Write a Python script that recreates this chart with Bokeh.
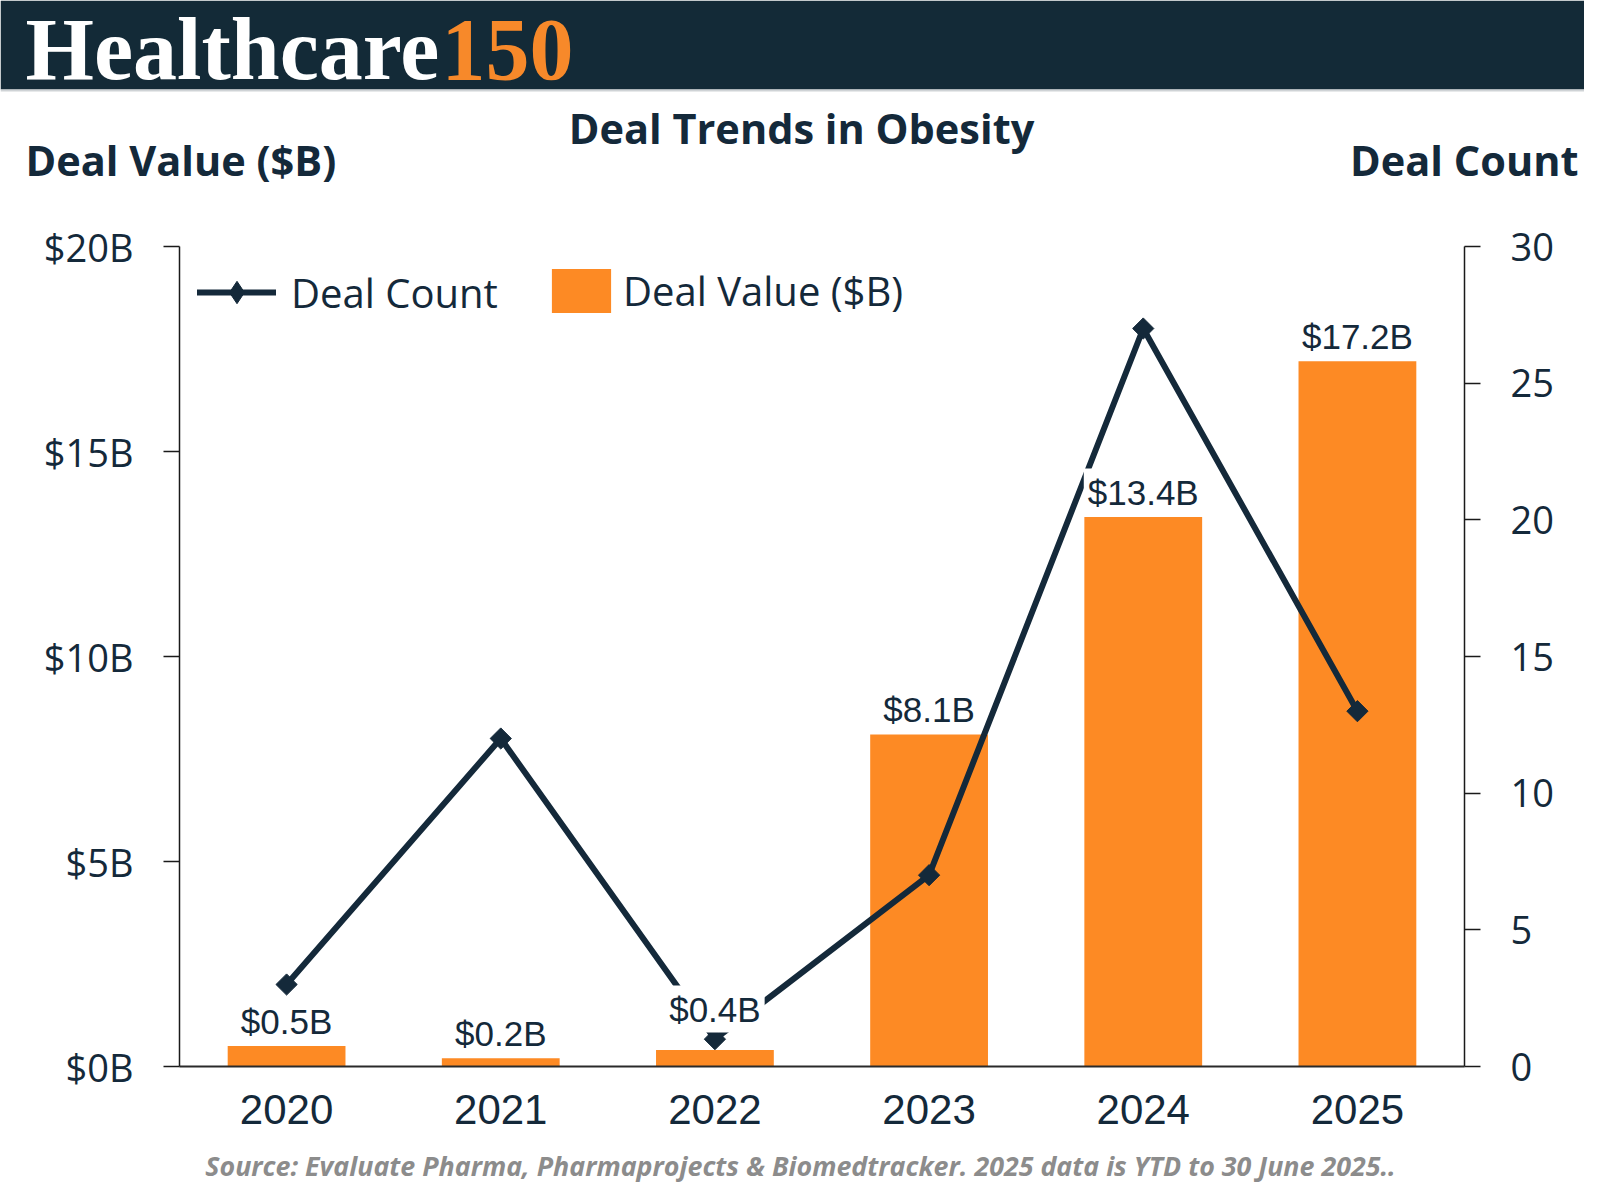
import math
from bokeh.plotting import figure
from bokeh.models import (Range1d, FactorRange, LinearAxis, FixedTicker, PrintfTickFormatter,
                          ColumnDataSource, Legend, LegendItem, Label, BoxAnnotation)
from bokeh.layouts import column
from bokeh.core.properties import value
from bokeh.embed import file_html
from bokeh.resources import INLINE

# ---------------- data ----------------
years = ["2020", "2021", "2022", "2023", "2024", "2025"]
deal_value = [0.5, 0.2, 0.4, 8.1, 13.4, 17.2]
deal_count = [3, 12, 1, 7, 27, 13]
value_ticks = [0, 5, 10, 15, 20]
count_ticks = [0, 5, 10, 15, 20, 25, 30]
value_labels = [f"${v}B" for v in deal_value]

# ---------------- styles ----------------
NAVY = "#14293a"
ORANGE = "#fd8a24"
HEADER = "#132a37"
label_lift = [-25, -25, -41, -25, -25, -25]   # label offsets above bar tops (px)

W, H = 1584, 1184
TOP_H = 200          # header + titles strip
CH_BOTTOM = 1146     # bottom edge of chart figure on the page
FL, FR, FT, FB = 179, 1464, 246, 1066   # frame edges on the page


def strip(height):
    f = figure(width=W, height=height, x_range=Range1d(0, W), y_range=Range1d(0, height),
               min_border=0, toolbar_location=None, output_backend="svg",
               x_axis_location=None, y_axis_location=None,
               background_fill_color="white", border_fill_color="white",
               outline_line_color=None, frame_align=False)
    f.grid.visible = False
    return f


# ---------------- top strip: header band and titles ----------------
top = strip(TOP_H)
top.add_layout(BoxAnnotation(left=0, right=W, top=TOP_H, bottom=TOP_H - 89,
                             fill_color=HEADER, fill_alpha=1, line_color=None))
top.add_layout(BoxAnnotation(left=0, right=W, top=TOP_H - 89, bottom=TOP_H - 91,
                             fill_color="#cfd3d6", fill_alpha=1, line_color=None))


def tlab(fig, fh, X, Y, text, **kw):
    fig.add_layout(Label(x=X, y=fh - Y, text=text, **kw))


tlab(top, TOP_H, 25, 49, "Healthcare", text_font="Liberation Serif", text_font_style="bold",
     text_font_size="88px", text_color="white", text_baseline="alphabetic", text_align="left")
tlab(top, TOP_H, 441, 49, "150", text_font="Liberation Serif", text_font_style="bold",
     text_font_size="88px", text_color="#f7892a", text_baseline="alphabetic", text_align="left")
tlab(top, TOP_H, 801, 127, "Deal Trends in Obesity", text_font="Open Sans", text_font_style="bold",
     text_font_size="41.5px", text_color=NAVY, text_align="center", text_baseline="middle")
tlab(top, TOP_H, 25, 159, "Deal Value ($B)", text_font="Open Sans", text_font_style="bold",
     text_font_size="41.5px", text_color=NAVY, text_align="left", text_baseline="middle")
tlab(top, TOP_H, 1578, 159, "Deal Count", text_font="Open Sans", text_font_style="bold",
     text_font_size="41.5px", text_color=NAVY, text_align="right", text_baseline="middle")

# ---------------- chart ----------------
p = figure(width=W, height=CH_BOTTOM - TOP_H, x_range=FactorRange(*years), y_range=Range1d(0, 20),
           toolbar_location=None, output_backend="svg",
           min_border_left=FL, min_border_right=W - FR, min_border_top=FT - TOP_H,
           min_border_bottom=CH_BOTTOM - FB, frame_align=False,
           outline_line_color=None, background_fill_color="white", border_fill_color="white")
p.grid.visible = False
p.extra_y_ranges = {"count": Range1d(0, 30)}

src = ColumnDataSource(dict(x=years, v=deal_value, c=deal_count, lab=value_labels, off=label_lift))

bars = p.vbar(x="x", top="v", width=0.55, source=src, fill_color=ORANGE, line_color=None)
line = p.line(x="x", y="c", source=src, y_range_name="count", line_color=NAVY, line_width=6,
              line_cap="round")
pts = p.scatter(x="x", y="c", source=src, y_range_name="count", marker="square", size=15,
                angle=math.pi / 4, fill_color=NAVY, line_color=NAVY)
# zero-size twin used only for the legend swatch (legend glyphs are never rotated)
leg_marker = p.scatter(x="x", y="c", source=src, y_range_name="count", marker="diamond", size=0,
                       fill_color=NAVY, line_color=NAVY)
p.text(x="x", y="v", text="lab", source=src, text_font=value("Liberation Sans"),
       text_font_size="35px", text_align="center", text_baseline="middle", text_color=NAVY,
       y_offset="off", background_fill_color="white", padding=4)

# axes
la = p.yaxis[0]
la.ticker = FixedTicker(ticks=value_ticks)
la.formatter = PrintfTickFormatter(format="$%dB")
ra = LinearAxis(y_range_name="count", ticker=FixedTicker(ticks=count_ticks))
p.add_layout(ra, "right")
for ax in (la, ra):
    ax.axis_line_color = "#1a1a1a"
    ax.axis_line_width = 1.5
    ax.major_tick_line_color = "#1a1a1a"
    ax.major_tick_line_width = 1.5
    ax.major_tick_out = 16
    ax.major_tick_in = 0
    ax.minor_tick_line_color = None
    ax.major_label_standoff = 30
    ax.major_label_text_font = "Open Sans"
    ax.major_label_text_font_size = "38px"
    ax.major_label_text_color = NAVY

xa = p.xaxis[0]
xa.axis_line_color = "#2a2a2a"
xa.axis_line_width = 2
xa.major_tick_line_color = None
xa.minor_tick_line_color = None
xa.major_label_standoff = 22
xa.major_label_text_font = "Liberation Sans"
xa.major_label_text_font_size = "42px"
xa.major_label_text_color = NAVY

# legends
leg1 = Legend(items=[LegendItem(label="Deal Count", renderers=[line, leg_marker])],
              location=(18, 746), glyph_width=79, glyph_height=56, label_height=56,
              label_standoff=15, padding=0, margin=0, border_line_color=None,
              background_fill_alpha=0, label_text_font="Open Sans",
              label_text_font_size="40px", label_text_color=NAVY)
leg2 = Legend(items=[LegendItem(label="Deal Value ($B)", renderers=[bars])],
              location=(365, 748), glyph_width=74, glyph_height=55, label_height=55,
              label_standoff=5, padding=0, margin=0, border_line_color=None,
              background_fill_alpha=0, label_text_font="Open Sans",
              label_text_font_size="40px", label_text_color=NAVY)
p.add_layout(leg1)
p.add_layout(leg2)

# ---------------- bottom strip: source ----------------
BOT_H = H - CH_BOTTOM
bot = strip(BOT_H)
tlab(bot, BOT_H, 800, 1165 - CH_BOTTOM,
     "Source: Evaluate Pharma, Pharmaprojects & Biomedtracker. 2025 data is YTD to 30 June 2025..",
     text_font="Open Sans", text_font_style="bold italic", text_font_size="26.8px",
     text_color="#8c8c8c", text_align="center", text_baseline="middle")

layout = column(top, p, bot, spacing=0)
open("out.html", "w").write(file_html(layout, INLINE))
